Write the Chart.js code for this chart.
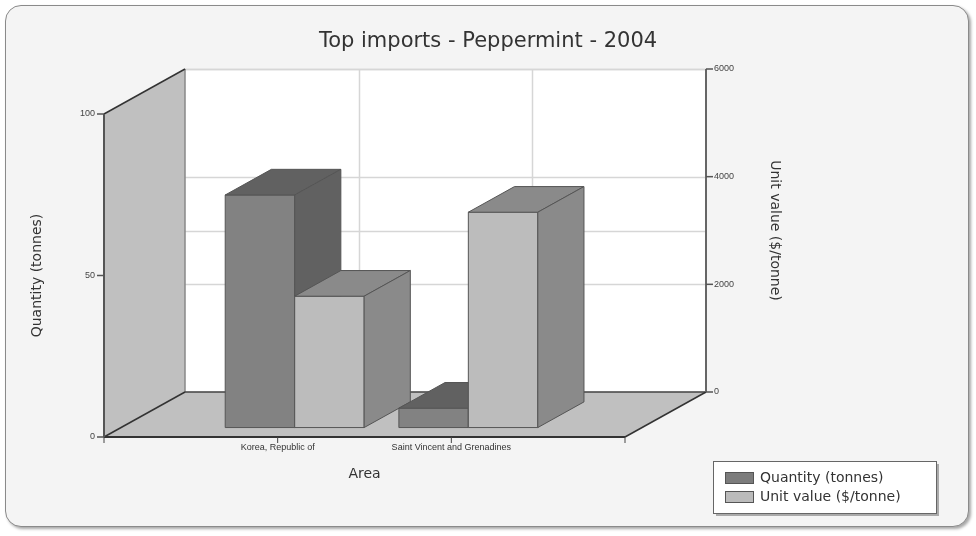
<!DOCTYPE html>
<html>
<head>
<meta charset="utf-8">
<script src="https://cdn.jsdelivr.net/npm/chart.js@4"></script>
<style>
  html, body { margin: 0; padding: 0; background: #fff; }
  #wrap { position: relative; width: 976px; height: 536px; }
  #panel {
    position: absolute; left: 5px; top: 5px; width: 962px; height: 520px;
    border: 1.5px solid #8a8a8a; border-radius: 16px; background: #f4f4f4;
    box-shadow: 2px 2px 3px rgba(0,0,0,0.35);
  }
  #chart { position: absolute; left: 0; top: 0; }
</style>
</head>
<body>
<div id="wrap">
  <div id="panel"></div>
  <canvas id="chart" width="976" height="536"></canvas>
</div>
<script>
// Top imports - Peppermint - 2004 (3D look drawn by a plugin on top of the bar scales)

// Empty labels at both ends put the two areas at 1/3 and 2/3 of the floor
const categories = ['', 'Korea, Republic of', 'Saint Vincent and Grenadines', ''];
const quantity = [null, 72, 6, null];        // tonnes
const unitValue = [null, 2440, 4000, null];  // $/tonne
const quantityTicks = [0, 50, 100];
const unitValueTicks = [0, 2000, 4000, 6000];

const chartTitle = 'Top imports - Peppermint - 2004';
const xTitle = 'Area';
const yTitle = 'Quantity (tonnes)';
const y1Title = 'Unit value ($/tonne)';

// depth of the box (back wall offset) and where the bars sit inside it
const depth = { x: 81, y: -45 };
const barFront = 0.21;
const barDepth = 0.57;

const barColors = [
    { front: '#828282', top: '#616161', side: '#616161' },
    { front: '#bcbcbc', top: '#8a8a8a', side: '#8a8a8a' }
];

function poly(ctx, pts, fill, stroke, lw) {
    ctx.beginPath();
    ctx.moveTo(pts[0][0], pts[0][1]);
    for (let i = 1; i < pts.length; i++) ctx.lineTo(pts[i][0], pts[i][1]);
    ctx.closePath();
    if (fill) { ctx.fillStyle = fill; ctx.fill(); }
    if (stroke) { ctx.strokeStyle = stroke; ctx.lineWidth = lw || 1; ctx.stroke(); }
}

function line(ctx, x1, y1, x2, y2, color, lw) {
    ctx.beginPath();
    ctx.moveTo(x1, y1);
    ctx.lineTo(x2, y2);
    ctx.strokeStyle = color;
    ctx.lineWidth = lw;
    ctx.stroke();
}

const box3d = {
    id: 'box3d',
    beforeDatasetsDraw(chart) {
        const { ctx, chartArea: a, scales } = chart;
        const L = a.left, R = a.right, T = a.top, B = a.bottom;
        const dx = depth.x, dy = depth.y;
        ctx.save();

        // back wall + grid
        ctx.fillStyle = '#ffffff';
        ctx.fillRect(L + dx, T + dy, R - L, B - T);
        for (let i = 1; i < categories.length - 1; i++) {
            const x = Math.round(scales.x.getPixelForValue(i) + dx) + 0.5;
            line(ctx, x, T + dy, x, B + dy, '#d6d6d6', 1.5);
        }
        quantityTicks.forEach(v => {
            const y = Math.round(scales.y.getPixelForValue(v) + dy) + 0.5;
            line(ctx, L + dx, y, R + dx, y, '#d6d6d6', 1.5);
        });
        unitValueTicks.forEach(v => {
            const y = Math.round(scales.y1.getPixelForValue(v) + dy) + 0.5;
            line(ctx, L + dx, y, R + dx, y, '#d6d6d6', 1.5);
        });

        // left wall and floor
        poly(ctx, [[L, B], [L, T], [L + dx, T + dy], [L + dx, B + dy]], '#c0c0c0');
        poly(ctx, [[L, B], [R, B], [R + dx, B + dy], [L + dx, B + dy]], '#c0c0c0');
        line(ctx, L + dx, T + dy, L + dx, B + dy, '#888', 1.5);
        line(ctx, L, T, L + dx, T + dy, '#333', 1.5);
        line(ctx, L, B, L + dx, B + dy, '#333', 1.5);
        line(ctx, L + dx, B + dy, R + dx, B + dy, '#444', 1.5);
        line(ctx, R, B, R + dx, B + dy, '#333', 1.5);
        line(ctx, R + dx, T + dy, R + dx, B + dy, '#666', 2);
        line(ctx, L, B, R, B, '#333', 2);
        line(ctx, L, T, L, B, '#555', 2);

        // left axis ticks
        ctx.font = '9px "Liberation Sans", Arial, sans-serif';
        ctx.fillStyle = '#444';
        ctx.textAlign = 'right';
        ctx.textBaseline = 'middle';
        quantityTicks.forEach(v => {
            const y = scales.y.getPixelForValue(v);
            line(ctx, L - 7, y, L, y, '#555', 1.5);
            ctx.fillText(String(v), L - 9, y);
        });
        // right axis ticks (on the back wall)
        ctx.textAlign = 'left';
        unitValueTicks.forEach(v => {
            const y = scales.y1.getPixelForValue(v) + dy;
            line(ctx, R + dx, y, R + dx + 7, y, '#555', 1.5);
            ctx.fillText(String(v), R + dx + 8, y);
        });
        // category ticks and labels
        ctx.font = '9px "Liberation Sans", Arial, sans-serif';
        ctx.fillStyle = '#333';
        ctx.textAlign = 'center';
        categories.forEach((c, i) => {
            const x = scales.x.getPixelForValue(i);
            line(ctx, x, B, x, B + 6, '#444', 1);
            if (c) ctx.fillText(c, x, B + 11);
        });

        // bars, left to right
        const fx = depth.x * barFront, fy = depth.y * barFront;
        const bx = depth.x * barDepth, by = depth.y * barDepth;
        for (let i = 0; i < categories.length; i++) {
            chart.data.datasets.forEach((ds, di) => {
                if (ds.data[i] == null) return;
                const el = chart.getDatasetMeta(di).data[i];
                const p = el.getProps(['x', 'y', 'base', 'width'], true);
                const l = p.x - p.width / 2 + fx, r = p.x + p.width / 2 + fx;
                const t = p.y + fy, b = p.base + fy;
                const col = barColors[di];
                poly(ctx, [[l, b], [l, t], [r, t], [r, b]], col.front, '#555', 1);
                poly(ctx, [[l, t], [l + bx, t + by], [r + bx, t + by], [r, t]], col.top, '#555', 1);
                poly(ctx, [[r, t], [r + bx, t + by], [r + bx, b + by], [r, b]], col.side, '#555', 1);
            });
        }
        ctx.restore();
        return false;
    },
    afterDraw(chart) {
        const { ctx, chartArea: a } = chart;
        const font = '"DejaVu Sans", Verdana, sans-serif';
        ctx.save();
        ctx.fillStyle = '#333';
        ctx.textAlign = 'center';
        ctx.textBaseline = 'middle';
        ctx.font = '21px ' + font;
        ctx.fillText(chartTitle, 488, 42);

        ctx.font = '14px ' + font;
        ctx.fillText(xTitle, (a.left + a.right) / 2, 474);

        ctx.translate(37, (a.top + a.bottom) / 2);
        ctx.rotate(-Math.PI / 2);
        ctx.fillText(yTitle, 0, 0);
        ctx.restore();

        ctx.save();
        ctx.fillStyle = '#333';
        ctx.textAlign = 'center';
        ctx.textBaseline = 'middle';
        ctx.font = '14px ' + font;
        ctx.translate(775, (a.top + a.bottom) / 2 + depth.y);
        ctx.rotate(Math.PI / 2);
        ctx.fillText(y1Title, 0, 0);
        ctx.restore();

        // legend box
        ctx.save();
        ctx.fillStyle = 'rgba(0,0,0,0.3)';
        ctx.fillRect(716, 464, 223, 52);
        ctx.fillStyle = '#fff';
        ctx.fillRect(713.5, 461.5, 223, 52);
        ctx.strokeStyle = '#666';
        ctx.lineWidth = 1;
        ctx.strokeRect(713.5, 461.5, 223, 52);
        ctx.font = '14px ' + font;
        ctx.textAlign = 'left';
        ctx.textBaseline = 'middle';
        chart.data.datasets.forEach((ds, di) => {
            const y = 478 + di * 19;
            ctx.fillStyle = ds.backgroundColor;
            ctx.fillRect(725.5, y - 5.5, 28, 11);
            ctx.strokeStyle = '#555';
            ctx.strokeRect(725.5, y - 5.5, 28, 11);
            ctx.fillStyle = '#333';
            ctx.fillText(ds.label, 760, y);
        });
        ctx.restore();
    }
};

new Chart(document.getElementById('chart'), {
    type: 'bar',
    data: {
        labels: categories,
        datasets: [
            { label: 'Quantity (tonnes)', data: quantity, yAxisID: 'y', backgroundColor: '#7c7c7c' },
            { label: 'Unit value ($/tonne)', data: unitValue, yAxisID: 'y1', backgroundColor: '#bbbbbb' }
        ]
    },
    options: {
        responsive: false,
        animation: false,
        layout: { padding: { left: 104, right: 351, top: 114, bottom: 99 } },
        datasets: { bar: { categoryPercentage: 0.8, barPercentage: 1 } },
        plugins: {
            legend: { display: false },
            title: { display: false },
            tooltip: { enabled: false }
        },
        scales: {
            x: { type: 'category', display: false, offset: false },
            y: { display: false, min: 0, max: 100 },
            y1: { display: false, min: 0, max: 6000 }
        }
    },
    plugins: [box3d]
});
</script>
</body>
</html>
